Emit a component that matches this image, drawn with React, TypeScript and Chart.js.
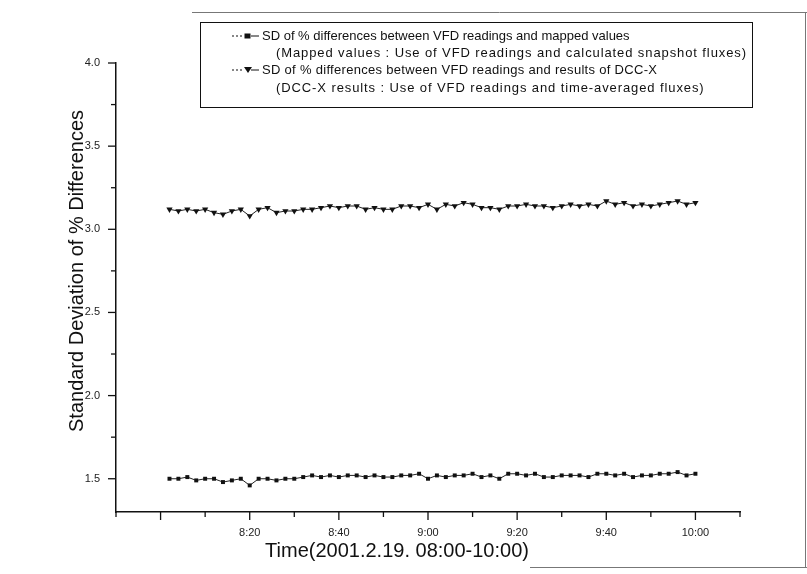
import React, { useEffect, useRef } from "react";
import { Chart, registerables } from "chart.js";

Chart.register(...registerables);

// minutes after 08:00
const TIME_MIN = [
  2, 4, 6, 8, 10, 12, 14, 16, 18, 20,
  22, 24, 26, 28, 30, 32, 34, 36, 38, 40,
  42, 44, 46, 48, 50, 52, 54, 56, 58, 60,
  62, 64, 66, 68, 70, 72, 74, 76, 78, 80,
  82, 84, 86, 88, 90, 92, 94, 96, 98, 100,
  102, 104, 106, 108, 110, 112, 114, 116, 118, 120,
];

const SD_MAPPED = [
  1.50, 1.50, 1.51, 1.49, 1.50, 1.50, 1.48, 1.49, 1.50, 1.46,
  1.50, 1.50, 1.49, 1.50, 1.50, 1.51, 1.52, 1.51, 1.52, 1.51,
  1.52, 1.52, 1.51, 1.52, 1.51, 1.51, 1.52, 1.52, 1.53, 1.50,
  1.52, 1.51, 1.52, 1.52, 1.53, 1.51, 1.52, 1.50, 1.53, 1.53,
  1.52, 1.53, 1.51, 1.51, 1.52, 1.52, 1.52, 1.51, 1.53, 1.53,
  1.52, 1.53, 1.51, 1.52, 1.52, 1.53, 1.53, 1.54, 1.52, 1.53,
];

const SD_DCCX = [
  3.12, 3.11, 3.12, 3.11, 3.12, 3.10, 3.09, 3.11, 3.12, 3.08,
  3.12, 3.13, 3.10, 3.11, 3.11, 3.12, 3.12, 3.13, 3.14, 3.13,
  3.14, 3.14, 3.12, 3.13, 3.12, 3.12, 3.14, 3.14, 3.13, 3.15,
  3.12, 3.15, 3.14, 3.16, 3.15, 3.13, 3.13, 3.12, 3.14, 3.14,
  3.15, 3.14, 3.14, 3.13, 3.14, 3.15, 3.14, 3.15, 3.14, 3.17,
  3.15, 3.16, 3.14, 3.15, 3.14, 3.15, 3.16, 3.17, 3.15, 3.16,
];

const X_TICK_VALUES = [-10, 0, 10, 20, 30, 40, 50, 60, 70, 80, 90, 100, 110, 120, 130];
const X_LABEL_VALUES = [20, 40, 60, 80, 100, 120];
const X_LABELS = ["8:20", "8:40", "9:00", "9:20", "9:40", "10:00"];

const Y_TICK_VALUES = [1.5, 1.75, 2.0, 2.25, 2.5, 2.75, 3.0, 3.25, 3.5, 3.75, 4.0];
const Y_LABEL_VALUES = [1.5, 2.0, 2.5, 3.0, 3.5, 4.0];
const Y_LABELS = ["1.5", "2.0", "2.5", "3.0", "3.5", "4.0"];

const LEGEND_LINES = [
  "SD of % differences between VFD readings and mapped values",
  "(Mapped values : Use of VFD readings and calculated snapshot fluxes)",
  "SD of % differences between VFD readings and results of DCC-X",
  "(DCC-X results : Use of VFD readings and time-averaged fluxes)",
];

const X_TITLE = "Time(2001.2.19. 08:00-10:00)";
const Y_TITLE = "Standard Deviation of % Differences";

const FONT = "'Liberation Sans', Arial, sans-serif";

export default function App() {
  const ref = useRef<HTMLCanvasElement | null>(null);

  useEffect(() => {
    if (!ref.current) return;

    const tickPlugin = {
      id: "customTicks",
      afterDraw(chart: any) {
        const ctx = chart.ctx;
        const xs = chart.scales.x;
        const ys = chart.scales.y;
        const area = chart.chartArea;
        ctx.save();
        ctx.strokeStyle = "#111";
        ctx.lineWidth = 1.3;
        X_TICK_VALUES.forEach((v) => {
          const px = xs.getPixelForValue(v);
          const major = v % 20 === 0;
          ctx.beginPath();
          ctx.moveTo(px, area.bottom);
          ctx.lineTo(px, area.bottom + (major ? 8 : 5));
          ctx.stroke();
        });
        Y_TICK_VALUES.forEach((v) => {
          const py = ys.getPixelForValue(v);
          const major = Math.abs(v * 2 - Math.round(v * 2)) < 1e-6;
          ctx.beginPath();
          ctx.moveTo(area.left, py);
          ctx.lineTo(area.left - (major ? 8 : 5), py);
          ctx.stroke();
        });

        // axis titles
        ctx.fillStyle = "#111";
        ctx.font = `20px ${FONT}`;
        ctx.textAlign = "center";
        ctx.textBaseline = "middle";
        ctx.fillText(X_TITLE, 397, 551);
        ctx.save();
        ctx.translate(77, 271);
        ctx.rotate(-Math.PI / 2);
        ctx.fillText(Y_TITLE, 0, 0);
        ctx.restore();

        // legend
        const bx = 200, by = 22, bw = 552, bh = 85;
        ctx.lineWidth = 1;
        ctx.strokeStyle = "#111";
        ctx.strokeRect(bx + 0.5, by + 0.5, bw, bh);
        ctx.font = `13px ${FONT}`;
        ctx.textAlign = "left";
        ctx.fillStyle = "#111";
        ctx.textBaseline = "middle";
        const rowY = [36, 53, 70, 88];
        const textX = 262;
        const subX = 276;
        const spacing = ["0px", "0.9px", "0.3px", "0.9px"];
        const xs4 = [textX, subX, textX, subX];
        LEGEND_LINES.forEach((line, i) => {
          (ctx as any).letterSpacing = spacing[i];
          ctx.fillText(line, xs4[i], rowY[i]);
        });
        (ctx as any).letterSpacing = "0px";
        const drawSym = (y: number, kind: string) => {
          ctx.lineWidth = 1;
          ctx.setLineDash([2, 2]);
          ctx.beginPath();
          ctx.moveTo(232, y);
          ctx.lineTo(244, y);
          ctx.stroke();
          ctx.setLineDash([]);
          ctx.beginPath();
          ctx.moveTo(251, y);
          ctx.lineTo(259, y);
          ctx.stroke();
          if (kind === "rect") {
            ctx.fillRect(244.5, y - 2.5, 6, 5);
          } else {
            ctx.beginPath();
            ctx.moveTo(244, y - 3);
            ctx.lineTo(252, y - 3);
            ctx.lineTo(248, y + 3);
            ctx.closePath();
            ctx.fill();
          }
        };
        drawSym(rowY[0], "rect");
        drawSym(rowY[2], "tri");

        // scan frame edges
        ctx.strokeStyle = "#777";
        ctx.lineWidth = 1;
        ctx.beginPath();
        ctx.moveTo(192, 12.5);
        ctx.lineTo(807, 12.5);
        ctx.moveTo(805.5, 12);
        ctx.lineTo(805.5, 568);
        ctx.moveTo(530, 567.5);
        ctx.lineTo(807, 567.5);
        ctx.stroke();
        ctx.restore();
      },
    };

    const chart = new Chart(ref.current, {
      type: "line",
      data: {
        datasets: [
          {
            label: LEGEND_LINES[0],
            data: TIME_MIN.map((t, i) => ({ x: t, y: SD_MAPPED[i] })),
            borderColor: "#222",
            backgroundColor: "#111",
            borderWidth: 1,
            pointStyle: "rect",
            pointRadius: 2.8,
            pointBorderWidth: 0,
            pointBackgroundColor: "#111",
          },
          {
            label: LEGEND_LINES[2],
            data: TIME_MIN.map((t, i) => ({ x: t, y: SD_DCCX[i] })),
            borderColor: "#222",
            backgroundColor: "#111",
            borderWidth: 1,
            pointStyle: "triangle",
            pointRotation: 180,
            pointRadius: 3.6,
            pointBorderWidth: 0,
            pointBackgroundColor: "#111",
          },
        ],
      },
      options: {
        responsive: false,
        animation: false,
        layout: { padding: { left: 0, top: 63, right: 67, bottom: 0 } },
        plugins: {
          legend: { display: false },
          tooltip: { enabled: false },
        },
        scales: {
          x: {
            type: "linear",
            min: -10,
            max: 130,
            afterBuildTicks: (scale: any) => {
              scale.ticks = X_TICK_VALUES.map((v) => ({ value: v }));
            },
            afterFit: (scale: any) => {
              scale.height = 574 - 512;
            },
            grid: { display: false, drawTicks: false },
            border: { display: true, color: "#111", width: 1.5 },
            ticks: {
              autoSkip: false,
              maxRotation: 0,
              padding: 14,
              color: "#222",
              font: { family: FONT, size: 11 },
              callback: (v: any) => {
                const i = X_LABEL_VALUES.indexOf(Number(v));
                return i >= 0 ? X_LABELS[i] : "";
              },
            },
          },
          y: {
            type: "linear",
            min: 1.3,
            max: 4.0,
            afterBuildTicks: (scale: any) => {
              scale.ticks = Y_TICK_VALUES.map((v) => ({ value: v }));
            },
            afterFit: (scale: any) => {
              scale.width = 116;
            },
            grid: { display: false, drawTicks: false },
            border: { display: true, color: "#111", width: 1.5 },
            ticks: {
              autoSkip: false,
              padding: 16,
              color: "#222",
              font: { family: FONT, size: 11 },
              callback: (v: any) => {
                const n = Number(v);
                const i = Y_LABEL_VALUES.findIndex((q) => Math.abs(q - n) < 1e-6);
                return i >= 0 ? Y_LABELS[i] : "";
              },
            },
          },
        },
      },
      plugins: [tickPlugin],
    } as any);

    return () => chart.destroy();
  }, []);

  return (
    <div style={{ position: "absolute", left: 0, top: 0, width: 807, height: 574, background: "#fff" }}>
      <canvas ref={ref} width={807} height={574} style={{ display: "block" }} />
    </div>
  );
}
